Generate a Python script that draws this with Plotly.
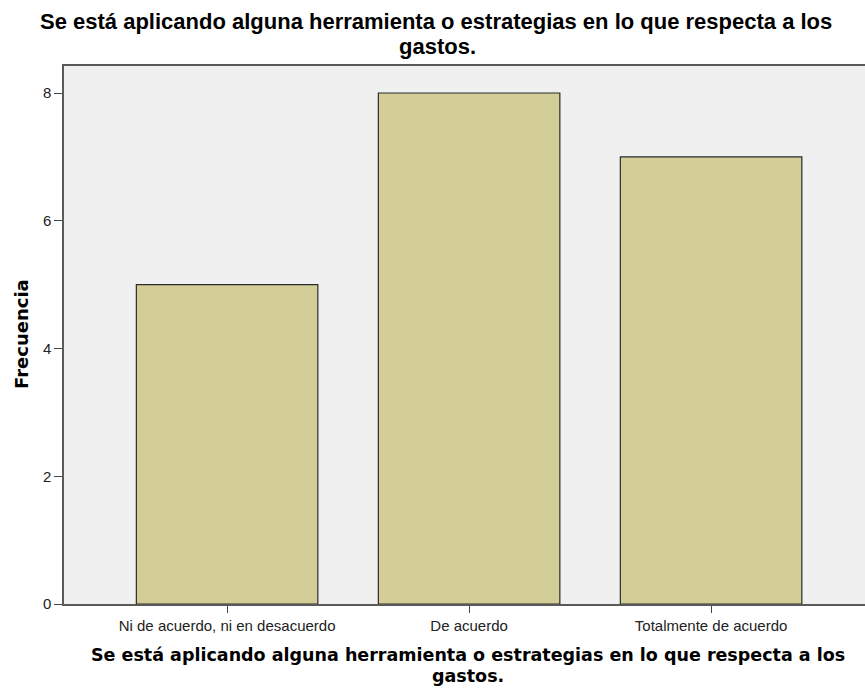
import plotly.graph_objects as go

categories = ["Ni de acuerdo, ni en desacuerdo", "De acuerdo", "Totalmente de acuerdo"]
frecuencia = [5, 8, 7]
y_ticks = [0, 2, 4, 6, 8]
title_line1 = "Se está aplicando alguna herramienta o estrategias en lo que respecta a los"
title_line2 = "gastos."
y_title = "Frecuencia"

PLOT_TOP, PLOT_BOTTOM = 66, 604
PLOT_LEFT, PLOT_RIGHT = 64, 865


def py(pixel_y):
    return (PLOT_BOTTOM - pixel_y) / (PLOT_BOTTOM - PLOT_TOP)


def px(pixel_x):
    return (pixel_x - PLOT_LEFT) / (PLOT_RIGHT - PLOT_LEFT)


fig = go.Figure()
fig.add_trace(go.Bar(
    x=list(range(len(categories))),
    y=frecuencia,
    width=0.75,
    marker=dict(color="#D3CE97", line=dict(color="#2b2b2b", width=1.2)),
    hoverinfo="skip",
))

top_font = dict(family="Liberation Sans, Arial, sans-serif", size=22, color="#000000")
bot_font = dict(family="DejaVu Sans, Verdana, sans-serif", size=17.5, color="#000000")

annotations = [
    dict(text="<b>" + title_line1 + "</b>", x=px(436), y=py(21), font=top_font),
    dict(text="<b>" + title_line2 + "</b>", x=px(437), y=py(46), font=top_font),
    dict(text="<b>" + title_line1 + "</b>", x=px(468), y=py(655), font=bot_font),
    dict(text="<b>" + title_line2 + "</b>", x=px(468), y=py(676), font=bot_font),
    dict(text="<b>" + y_title + "</b>", x=px(21), y=py(334), textangle=-90,
         font=dict(family="DejaVu Sans, Verdana, sans-serif", size=18, color="#000000")),
]
for a in annotations:
    a.update(xref="paper", yref="paper", xanchor="center", yanchor="middle",
             showarrow=False)

fig.update_layout(
    width=865, height=688,
    margin=dict(l=PLOT_LEFT, r=865 - PLOT_RIGHT, t=PLOT_TOP, b=688 - PLOT_BOTTOM),
    paper_bgcolor="white",
    plot_bgcolor="#F0F0F0",
    showlegend=False,
    font=dict(family="Liberation Sans, Arial, sans-serif", color="#000000"),
    annotations=annotations,
    xaxis=dict(
        tickmode="array", tickvals=list(range(len(categories))), ticktext=categories,
        range=[-0.674, 2.636], showgrid=False, zeroline=False,
        showline=True, linecolor="#5a5a5a", linewidth=1.5, mirror=True,
        ticks="outside", ticklen=7, tickcolor="#444444", tickwidth=1.2,
        tickfont=dict(size=15, color="#222222"),
    ),
    yaxis=dict(
        tickmode="array", tickvals=y_ticks, range=[0, 8.423],
        showgrid=False, zeroline=False,
        showline=True, linecolor="#5a5a5a", linewidth=1.5,
        ticks="outside", ticklen=8, tickcolor="#444444", tickwidth=1.2,
        tickfont=dict(size=15, color="#222222"),
    ),
)

fig.write_html("out.html", config={"displayModeBar": False},
               post_script="document.body.style.margin='0px';")
